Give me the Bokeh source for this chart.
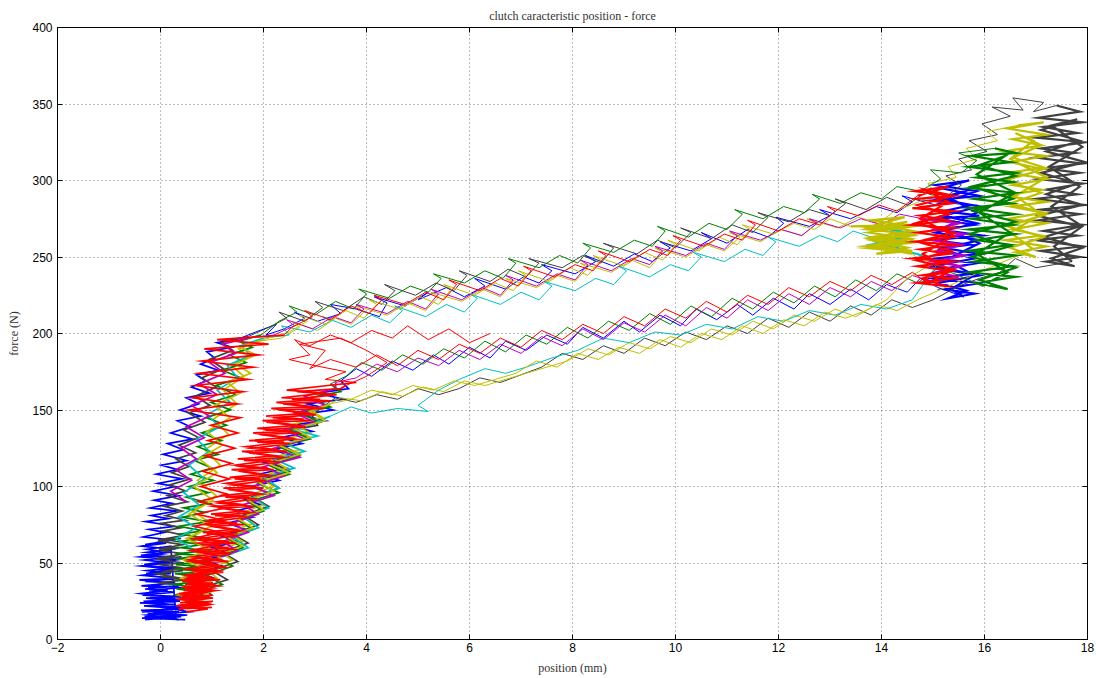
from bokeh.plotting import figure
from bokeh.models import Range1d, Title, FixedTicker, LinearAxis
from bokeh.embed import file_html
from bokeh.resources import INLINE

title_text = "clutch caracteristic position - force"
x_label = "position (mm)"
y_label = "force (N)"
x_ticks = [-2, 0, 2, 4, 6, 8, 10, 12, 14, 16, 18]
y_ticks = [0, 50, 100, 150, 200, 250, 300, 350, 400]

# ---------------- blue ----------------
blue_up = [
(0.48,13),(-0.36,14),(0.40,15),(-0.30,13),(0.52,16),(-0.25,17),(0.36,18),(-0.38,19),(0.45,20),(-0.32,22),(0.30,23),(-0.40,24),(0.38,25),(-0.28,27),(0.44,28),(-0.35,29),(0.26,31),(-0.22,32),(0.40,34),(-0.37,35),(0.28,37),(-0.30,38),(0.34,40),(-0.39,42),(0.20,43),(-0.27,45),(0.31,47),(-0.36,48),(0.18,50),(-0.31,52),(0.25,54),(-0.38,55),(0.12,57),(-0.26,59),(0.20,61),
(0.30,14),(-0.31,15),(0.46,16),(-0.18,17),(0.25,19),(-0.36,18),(0.41,21),(-0.27,22),(0.18,23),(-0.33,25),(0.38,26),(-0.21,28),(0.29,27),(-0.39,30),(0.14,32),(-0.30,33),(0.35,35),(-0.24,34),(0.20,37),(-0.41,39),(0.27,40),(-0.35,42),(0.09,44),(-0.28,43),(0.23,46),(-0.38,48),(0.15,50),(-0.32,49),(0.30,52),(-0.40,54),(0.06,56),(-0.27,57),(0.19,59),(-0.36,61),(0.11,63),(-0.30,62),(0.24,65),(-0.33,67),(0.08,70),(-0.22,72),(0.27,74),(-0.29,77),(0.15,79),(-0.18,81),(0.31,84),(-0.20,86),(0.22,89),(-0.12,91),(0.36,94),(-0.14,97),(0.28,100),(-0.05,102),(0.42,105),(-0.08,108),(0.33,111),(0.02,114),(0.50,117),(0.05,121),(0.44,124),(0.14,128),(0.62,131),(0.20,135),(0.58,139),(0.33,143),(0.78,146),(0.38,150),(0.74,154),(0.50,158),(0.95,161),(0.60,165),(0.88,169),(0.70,173),(1.12,176),(0.78,180),(1.05,184),(0.90,188),(1.38,191),(1.10,194),(1.55,197),
]
blue_top = [
(1.85,201),(2.25,206),(2.05,199),(2.40,203),(2.80,210),(2.60,214),(3.05,208),(3.50,213),(3.30,219),(3.80,216),(4.25,211),(4.40,220),(4.15,224),(4.75,218),(5.20,227),(5.00,222),(5.55,230),(5.90,224),(6.30,231),(6.10,236),(6.70,229),(7.05,237),(7.35,233),(7.60,241),(7.40,245),(8.05,239),(8.45,247),(8.25,251),(8.80,244),(9.20,252),(9.55,247),(9.90,256),(9.70,260),(10.30,254),(10.70,262),(10.50,266),(11.00,259),(11.40,268),(11.80,263),(12.10,272),(11.95,276),(12.60,270),(13.00,277),(12.80,281),(13.40,275),(13.90,283),(14.30,279),(14.60,286),(14.40,290),(15.05,284),
]
blue_hold = [
(15.85,293),(15.05,297),(15.7,300),(15.15,295),(15.9,290),(15.0,287),(15.75,284),(15.2,280),(15.9,277),(15.05,275),(15.8,271),(15.1,268),(15.95,264),(15.0,261),(15.7,258),(15.2,256),(15.9,252),(15.05,249),(15.85,246),(15.15,242),(15.75,239),(15.0,236),(15.9,233),(15.2,229),(15.8,226),(15.3,223),(15.65,228),(15.1,233),(15.9,238),(15.0,244),(15.8,249),(15.15,255),(15.9,261),(15.05,266),(15.85,272),(15.2,277),(15.9,283),(15.1,288),(15.7,294),(15.3,289),(15.85,279),(15.2,269),(15.9,259),(15.25,248),(15.8,238),(15.35,229),(15.6,224),
]
blue_back = [
(15.1,230),(14.75,236),(14.5,227),(14.1,232),(13.75,222),(13.4,229),(13.0,219),(12.6,226),(12.3,216),(11.9,223),(11.5,212),(11.2,219),(10.8,209),(10.4,216),(10.1,205),(9.7,212),(9.3,201),(9.0,208),(8.6,197),(8.2,204),(7.9,193),(7.5,199),(7.1,189),(6.7,195),(6.4,184),(6.0,191),(5.6,180),(5.3,186),(4.9,176),(4.5,182),(4.1,172),(3.8,177),(3.5,169),
]
blue_down = [
(3.65,164),(3.05,161),(3.55,157),(2.85,154),(3.35,150),(2.70,147),(3.20,143),(2.50,140),(2.95,136),(2.35,132),(2.75,128),(2.15,124),(2.60,120),(2.00,116),(2.45,112),(1.90,108),(2.30,104),(1.75,100),(2.10,96),(1.60,92),(1.95,88),(1.45,84),(1.80,80),(1.30,76),(1.65,72),(1.15,68),(1.50,64),(1.00,60),(1.35,56),(0.85,52),(1.20,48),(0.70,44),(1.05,40),(0.55,36),(0.90,32),(0.35,28),(0.75,24),(0.10,21),(0.55,18),(-0.25,16),(0.35,13),
]

# ---------------- dark gray ----------------
gray_up = [
(0.42,36),(-0.05,37),(0.47,39),(0.01,41),(0.40,40),(-0.08,43),(0.44,45),(0.03,44),(0.38,47),(-0.04,49),(0.46,50),(0.00,52),(0.41,54),(-0.07,53),(0.45,56),(0.04,58),(0.37,60),(-0.03,59),(0.43,62),(0.02,64),(0.40,66),(-0.05,65),(0.46,68),(0.06,71),(0.39,73),(0.03,76),(0.48,78),(0.10,81),(0.42,84),(0.08,87),(0.52,90),(0.14,94),(0.49,97),(0.18,101),(0.58,105),(0.22,109),(0.55,113),(0.30,118),(0.68,122),(0.36,127),(0.74,132),(0.45,137),(0.86,142),(0.55,148),(0.96,153),(0.68,159),(1.08,165),(0.80,171),(1.22,177),(0.95,183),(1.40,189),(1.18,194),(1.70,198),
]
gray_top = [
(2.10,204),(2.45,210),(2.30,214),(2.80,208),(3.15,217),(3.00,221),(3.55,215),(3.95,224),(4.30,219),(4.55,228),(4.35,232),(4.95,225),(5.35,233),(5.70,228),(5.95,238),(5.80,241),(6.40,234),(6.75,242),(7.10,237),(7.35,246),(7.15,249),(7.80,243),(8.20,251),(8.55,246),(8.80,256),(8.60,259),(9.25,252),(9.65,261),(10.00,256),(10.30,266),(10.10,269),(10.70,262),(11.10,271),(11.50,266),(11.80,276),(11.60,279),(12.20,273),(12.60,281),(13.00,277),(13.30,285),(13.10,288),(13.70,281),(14.10,289),(14.50,284),(14.85,292),(15.20,288),
(15.55,297),(15.25,303),(15.75,307),(15.50,314),(16.05,319),(15.70,326),(16.25,330),(15.95,337),(16.50,342),(16.15,348),(16.75,346),(16.55,354),(17.15,351),(16.95,345),(17.40,349),
]
gray_hold = [
(17.85,345),(17.05,341),(17.9,338),(17.15,335),(17.8,331),(17.0,328),(17.95,325),(17.1,321),(17.75,318),(17.0,315),(17.9,311),(17.15,308),(17.85,305),(17.05,301),(17.9,298),(17.2,294),(17.8,291),(17.0,288),(17.95,284),(17.1,281),(17.85,278),(17.05,274),(17.9,271),(17.15,267),(17.8,264),(17.0,261),(17.9,257),(17.1,254),(17.85,250),(17.2,247),(17.75,244),(17.3,249),(17.9,256),(17.15,263),(17.85,270),(17.05,277),(17.9,284),(17.2,291),(17.8,298),(17.1,305),(17.95,312),(17.2,319),(17.85,326),(17.1,333),(17.8,340),(17.3,336),(17.9,322),(17.25,309),(17.85,296),(17.3,283),(17.9,270),(17.35,257),(17.7,247),
]
gray_back = [
(17.0,243),(16.6,249),(16.3,240),(15.9,236),(15.5,231),
(15.0,222),(14.6,217),(14.2,222),(13.8,212),(13.4,218),(13.0,208),(12.6,214),(12.2,204),(11.8,210),(11.4,200),(11.0,205),(10.6,196),(10.2,201),(9.8,192),(9.4,197),(9.0,187),(8.6,192),(8.2,183),(7.8,187),(7.4,178),(7.0,173),(6.6,168),(6.2,171),(5.8,164),(5.4,160),(5.0,164),(4.6,157),(4.2,160),(3.8,155),(3.4,158),(3.1,151),
]
gray_down = [
(2.95,146),(3.05,140),(2.55,137),(2.90,132),(2.35,127),(2.70,121),(2.15,116),(2.50,110),(1.95,105),(2.30,99),(1.80,93),(2.10,87),(1.60,81),(1.90,75),(1.40,69),(1.70,63),(1.20,57),(1.50,51),(1.00,45),(1.30,39),(0.80,34),(1.00,29),(0.50,25),
]

# ---------------- yellow (outer) ----------------
yellow_a_up = [
(0.90,22),(0.42,26),(0.96,31),(0.46,37),(0.88,43),(0.52,50),(0.97,58),(0.56,66),(1.02,75),(0.62,84),(1.08,94),(0.72,104),(1.16,114),(0.86,124),(1.32,134),(1.02,144),(1.48,154),(1.22,163),(1.62,172),(1.38,179),(1.72,185),(1.52,190),(1.92,195),
]
yellow_a_top = [
(2.35,197),(2.70,204),(2.55,208),(3.05,202),(3.40,210),(3.70,206),(3.95,214),(3.80,218),(4.40,212),(4.80,220),(5.15,215),(5.40,224),(5.25,227),(5.85,221),(6.25,229),(6.60,224),(6.85,233),(6.70,236),(7.30,230),(7.70,238),(8.05,234),(8.30,243),(8.15,246),(8.75,240),(9.15,248),(9.50,243),(9.75,253),(9.60,256),(10.20,250),(10.60,258),(10.95,254),(11.25,263),(11.05,266),(11.65,260),(12.05,268),(12.45,264),(12.75,272),(12.55,275),(13.15,269),(13.55,276),(13.95,272),(14.25,280),(14.65,285),(15.05,291),(14.90,298),(15.45,302),(15.30,309),(15.85,314),(15.65,321),(16.25,326),(16.05,332),(16.65,336),
]
yellow_a_hold = [
(17.15,338),(16.45,334),(17.2,330),(16.55,327),(17.1,323),(16.4,319),(17.2,316),(16.5,312),(17.05,308),(16.45,305),(17.2,301),(16.55,297),(17.1,294),(16.4,290),(17.2,286),(16.5,283),(17.15,279),(16.45,275),(17.2,272),(16.55,268),(17.1,264),(16.4,261),(17.2,257),(16.6,253),(17.0,250),(16.5,256),(17.15,263),(16.45,270),(17.2,278),(16.5,285),(17.1,292),(16.4,300),(17.2,308),(16.55,315),(17.1,323),(16.6,331),(16.95,326),(16.5,314),(17.2,302),(16.6,290),(17.1,278),(16.5,266),(16.95,255),
]
yellow_a_back = [
(16.3,246),(15.9,240),(15.5,234),(15.1,228),(14.7,222),(14.3,215),(13.9,219),(13.5,211),(13.1,216),(12.7,208),(12.3,212),(11.9,203),(11.5,208),(11.1,199),(10.7,203),(10.3,194),(9.9,198),(9.5,190),(9.1,194),(8.7,186),(8.3,190),(7.9,182),(7.5,178),(7.1,174),(6.7,170),(6.3,166),(5.9,169),(5.5,162),(5.1,165),(4.7,159),(4.3,162),(3.9,156),(3.5,158),(3.2,152),
]
yellow_a_down = [
(2.90,150),(3.15,145),(2.60,141),(2.90,135),(2.30,130),(2.70,124),(2.10,118),(2.45,112),(1.90,106),(2.20,100),(1.70,94),(2.00,88),(1.50,82),(1.80,76),(1.30,70),(1.60,64),(1.10,58),(1.40,52),(0.90,46),(1.10,40),(0.70,34),
]

# ---------------- green ----------------
green_up = [
(0.76,28),(0.27,29),(0.83,31),(0.31,33),(0.72,34),(0.24,36),(0.85,38),(0.33,39),(0.79,41),(0.28,43),(0.87,44),(0.35,46),(0.76,48),(0.30,49),(0.84,51),(0.37,53),(0.80,55),(0.29,56),(0.88,58),(0.39,60),(0.82,62),(0.33,64),(0.90,66),(0.40,69),(0.84,71),(0.36,74),(0.92,77),(0.43,80),(0.87,83),(0.45,86),(0.96,89),(0.50,93),(0.93,96),(0.55,100),(1.03,104),(0.59,108),(1.00,112),(0.66,117),(1.12,121),(0.72,126),(1.18,130),(0.80,135),(1.28,140),(0.88,145),(1.36,150),(0.98,155),(1.46,160),(1.08,166),(1.56,171),(1.20,176),(1.66,181),(1.34,186),(1.78,191),(1.52,195),(1.95,199),
]
green_top = [
(2.30,208),(2.65,214),(2.50,218),(3.00,212),(3.40,221),(3.75,216),(4.00,226),(3.85,229),(4.45,223),(4.85,231),(5.20,227),(5.45,236),(5.30,239),(5.90,233),(6.30,241),(6.65,236),(6.90,246),(6.75,249),(7.35,243),(7.75,251),(8.10,246),(8.35,256),(8.20,259),(8.80,253),(9.20,261),(9.55,257),(9.80,267),(9.65,270),(10.25,263),(10.65,272),(11.00,268),(11.30,278),(11.15,281),(11.70,275),(12.10,283),(12.50,279),(12.80,288),(12.65,291),(13.20,285),(13.60,292),(14.00,288),(14.30,296),(14.75,293),(15.15,301),(14.95,307),(15.55,305),(15.85,313),(15.50,318),(16.20,321),
]
green_hold = [
(16.6,318),(15.75,316),(16.5,312),(15.7,309),(16.6,305),(15.85,302),(16.55,299),(15.7,295),(16.6,292),(15.8,288),(16.5,285),(15.7,282),(16.6,278),(15.75,275),(16.55,271),(15.7,268),(16.6,265),(15.85,261),(16.5,258),(15.7,254),(16.6,251),(15.8,247),(16.55,244),(15.7,240),(16.6,237),(15.85,233),(16.45,229),(15.9,235),(16.6,243),(15.75,250),(16.5,257),(15.7,265),(16.6,273),(15.8,280),(16.55,288),(15.75,296),(16.6,303),(15.9,310),(16.4,316),(15.85,304),(16.6,292),(15.9,279),(16.5,266),(15.85,252),(16.45,240),(15.95,231),
]
green_back = [
(15.5,238),(15.1,243),(14.7,233),(14.3,239),(13.9,228),(13.5,235),(13.1,224),(12.7,231),(12.3,220),(11.9,227),(11.5,216),(11.1,223),(10.7,211),(10.3,218),(9.9,206),(9.5,213),(9.1,202),(8.7,208),(8.3,197),(7.9,204),(7.5,193),(7.1,199),(6.7,188),(6.3,195),(5.9,184),(5.5,190),(5.1,180),(4.7,186),(4.3,176),(3.9,181),(3.6,172),(3.3,167),
]
green_down = [
(3.50,162),(2.90,158),(3.30,152),(2.70,148),(3.10,142),(2.50,137),(2.90,131),(2.30,126),(2.70,120),(2.10,114),(2.50,108),(1.90,102),(2.30,96),(1.70,90),(2.00,84),(1.50,78),(1.80,72),(1.30,66),(1.60,60),(1.10,54),(1.40,48),(0.90,42),(1.20,36),(0.70,31),(0.95,27),
]

# ---------------- cyan ----------------
cyan_up = [
(0.6,60),(0.3,66),(0.7,73),(0.35,80),(0.75,88),(0.45,96),(0.85,105),(0.55,114),(0.95,123),(0.7,131),(1.15,139),(0.9,147),(1.35,155),(1.1,163),(1.5,171),(1.3,179),(1.75,186),(1.55,192),(2.0,197),
]
cyan_top = [
(2.50,199),(2.35,205),(2.90,201),(3.30,208),(3.15,211),(3.70,204),(4.10,212),(4.45,207),(4.70,215),(4.55,218),(5.15,211),(5.55,219),(5.90,214),(6.15,223),(6.00,226),(6.60,219),(7.00,227),(7.35,222),(7.60,231),(7.45,234),(8.05,228),(8.45,236),(8.80,232),(9.05,241),(8.90,244),(9.50,237),(9.90,245),(10.25,241),(10.50,250),(10.35,253),(10.95,247),(11.35,255),(11.70,251),(11.95,260),(11.80,263),(12.40,257),(12.80,264),(13.15,260),(13.45,267),(13.80,263),
]
cyan_hold = [
(14.4,262),(13.8,258),(14.5,254),(13.9,260),(14.6,265),(14.0,270),(14.5,264),(14.1,256),(14.7,252),(15.1,246),
]
cyan_back = [
(14.6,222),(14.1,216),(13.6,219),(13.1,212),(12.6,215),(12.1,208),(11.6,211),(11.1,203),(10.6,206),(10.1,199),(9.6,201),(9.1,194),(8.6,197),(8.1,189),(7.6,184),(7.1,178),(6.7,174),(6.3,177),(5.8,170),(5.4,163),(5.0,153),(5.2,149),(4.6,151),(4.1,148),(3.7,152),(3.3,146),
]
cyan_down = [
(2.95,141),(2.6,137),(3.05,133),(2.4,128),(2.8,123),(2.2,118),(2.6,112),(2.0,106),(2.3,99),(1.8,93),(2.1,86),(1.6,80),(1.9,73),(1.4,67),(1.7,60),(1.2,54),
]

# ---------------- magenta ----------------
magenta_up = [
(0.5,90),(0.2,97),(0.6,104),(0.3,111),(0.7,118),(0.4,125),(0.85,132),(0.5,139),(0.95,146),(0.6,153),(1.1,160),(0.75,167),(1.25,174),(0.95,181),(1.45,187),(1.2,193),(1.7,197),
]
magenta_top = [
(2.20,199),(2.60,205),(2.45,209),(2.95,203),(3.35,211),(3.70,207),(3.95,216),(3.80,219),(4.40,213),(4.80,221),(5.15,216),(5.40,226),(5.25,229),(5.85,222),(6.25,230),(6.60,225),(6.85,235),(6.70,238),(7.30,231),(7.70,239),(8.05,235),(8.30,245),(8.15,248),(8.75,241),(9.15,249),(9.50,245),(9.75,254),(9.60,257),(10.20,251),(10.60,259),(10.95,255),(11.20,264),(11.05,267),(11.65,261),(12.05,268),(12.45,264),(12.75,272),(12.60,275),(13.20,269),(13.60,275),(14.00,271),(14.35,278),(14.80,275),
]
magenta_hold = [
(15.5,272),(15.05,268),(15.6,265),(15.0,261),(15.55,258),(15.1,254),(15.6,251),(15.0,247),(15.55,244),(15.05,240),(15.5,237),
]
magenta_back = [
(15.0,233),(14.6,238),(14.2,228),(13.8,234),(13.4,224),(13.0,230),(12.6,219),(12.2,226),(11.8,215),(11.4,222),(11.0,210),(10.6,217),(10.2,205),(9.8,212),(9.4,201),(9.0,207),(8.6,196),(8.2,203),(7.8,192),(7.4,198),(7.0,187),(6.6,193),(6.2,183),(5.8,189),(5.4,179),(5.0,184),(4.6,175),(4.2,180),(3.8,171),(3.4,168),
]
magenta_down = [
(3.4,164),(2.8,159),(3.2,153),(2.6,148),(3.0,142),(2.4,137),(2.8,131),(2.2,125),(2.7,119),(2.0,113),(2.4,107),(1.8,100),(2.2,94),(1.6,88),(1.9,82),(1.4,76),(1.7,70),(1.2,64),(1.5,58),(1.0,52),
]

# ---------------- yellow (inner) ----------------
yellow_b_up = [
(0.85,25),(0.35,29),(0.9,34),(0.4,40),(0.88,46),(0.45,52),(0.92,59),(0.5,66),(0.98,74),(0.55,82),(1.02,91),(0.65,100),(1.1,109),(0.75,118),(1.2,127),(0.9,136),(1.35,145),(1.05,153),(1.55,161),(1.3,168),(1.75,174),(1.45,180),(1.85,186),(1.55,191),(2.0,196),
]
yellow_b_top = [
(2.50,201),(2.85,208),(2.70,212),(3.20,206),(3.60,215),(3.95,210),(4.20,219),(4.05,222),(4.65,216),(5.05,224),(5.40,219),(5.65,229),(5.50,232),(6.10,225),(6.50,233),(6.85,228),(7.10,238),(6.95,241),(7.55,234),(7.95,243),(8.30,238),(8.55,248),(8.40,251),(9.00,244),(9.40,253),(9.75,248),(10.00,258),(9.85,261),(10.45,254),(10.85,263),(11.20,258),(11.45,268),(11.30,271),(11.90,265),(12.30,272),(12.70,268),(13.00,275),(13.40,270),
]
yellow_b_hold = [
(14.55,271),(13.75,268),(14.6,265),(13.8,262),(14.5,259),(13.7,256),(14.6,253),(13.85,258),(14.55,262),(13.75,266),(14.6,270),(13.8,274),(14.45,276),(13.9,271),(14.6,267),(13.8,263),(14.55,260),(13.7,257),(14.6,254),(13.9,252),(14.5,256),(13.8,261),(14.6,264),(13.75,269),(14.5,273),(14.0,268),(14.6,261),(14.1,255),(14.6,252),
]
yellow_b_back = [
(14.9,244),(14.5,236),(14.1,222),(13.7,215),(13.3,210),(12.9,214),(12.5,205),(12.1,209),(11.7,200),(11.3,205),(10.9,196),(10.5,200),(10.1,191),(9.7,196),(9.3,187),(8.9,191),(8.5,183),(8.1,187),(7.7,178),(7.3,182),(6.9,174),(6.5,170),(6.1,166),(5.7,169),(5.3,163),(4.9,166),(4.5,160),(4.1,163),(3.7,157),(3.3,154),
]
yellow_b_down = [
(2.9,149),(3.2,143),(2.6,138),(2.9,132),(2.3,127),(2.7,121),(2.1,115),(2.5,109),(1.9,103),(2.2,97),(1.7,91),(2.0,85),(1.5,79),(1.8,73),(1.3,67),(1.6,61),(1.1,55),(1.3,49),
]

# ---------------- red ----------------
red_up = [
(1.0,21),(0.35,20),(0.98,23),(0.30,22),(1.02,25),(0.38,24),(0.95,27),(0.33,26),(1.0,29),(0.42,28),(0.92,31),(0.36,30),(1.0,33),(0.45,32),(0.96,35),(0.40,34),(1.02,37),(0.48,36),(0.95,39),(0.42,38),(1.0,41),(0.50,40),(0.97,43),(0.46,42),(1.03,45),(0.52,46),(1.06,49),(0.55,52),(1.1,55),(0.58,58),(1.14,62),(0.62,66),(1.18,70),(0.66,74),(1.22,78),(0.70,82),(1.26,86),(0.74,90),(1.3,95),(0.78,100),(1.34,105),(0.82,110),(1.38,115),(0.86,120),(1.44,125),(0.92,130),(1.5,135),(0.98,140),(1.55,145),(0.55,150),(1.5,154),(0.62,158),(1.6,162),(0.68,166),(1.7,170),(0.75,174),(1.8,178),(0.8,182),(1.9,186),(0.85,190),(2.1,193),(1.1,196),(2.4,199),
]
red_top = [
(2.55,204),(2.95,211),(2.80,215),(3.30,209),(3.70,218),(4.05,213),(4.30,222),(4.15,225),(4.75,219),(5.15,227),(5.50,222),(5.75,232),(5.60,235),(6.20,228),(6.60,236),(6.95,231),(7.20,241),(7.05,244),(7.65,237),(8.05,245),(8.40,241),(8.65,251),(8.50,254),(9.10,247),(9.50,255),(9.85,251),(10.10,261),(9.95,264),(10.55,257),(10.95,265),(11.30,261),(11.55,271),(11.40,274),(12.00,267),(12.40,275),(12.80,271),(13.10,280),(12.95,283),(13.55,277),(13.95,284),(14.30,280),(14.70,290),
]
red_hold = [
(15.3,296),(14.65,293),(15.4,290),(14.7,288),(15.35,285),(14.6,282),(15.4,280),(14.75,277),(15.3,274),(14.6,271),(15.4,269),(14.7,266),(15.35,263),(14.65,260),(15.4,258),(14.75,255),(15.3,252),(14.6,249),(15.4,247),(14.7,244),(15.35,241),(14.8,238),(15.4,236),(14.7,233),(15.25,231),(14.8,236),(15.4,242),(14.65,248),(15.35,254),(14.7,260),(15.4,266),(14.65,272),(15.3,278),(14.7,284),(15.4,290),(14.85,294),(15.3,286),(14.75,275),(15.4,264),(14.8,252),(15.35,241),(14.9,233),
]
red_back = [
(14.6,240),(14.2,232),(13.8,238),(13.4,228),(13.0,234),(12.6,224),(12.2,230),(11.8,219),(11.4,225),(11.0,214),(10.6,221),(10.2,210),(9.8,216),(9.4,205),(9.0,211),(8.6,200),(8.2,206),(7.8,196),(7.4,202),(7.0,191),(6.6,197),(6.2,187),(5.8,193),(5.4,183),(5.0,189),(4.6,179),(4.2,186),(3.8,178),(3.3,183),(2.9,177),(3.2,189),(2.7,193),(3.5,197),(4.0,189),(4.4,181),(4.0,172),(3.6,166),
]
red_down = [
(3.50,164),(2.65,162),(3.42,160),(2.55,157),(3.30,156),(2.38,154),(3.18,151),(2.30,150),(3.02,147),(2.18,145),(2.92,143),(2.06,142),(2.82,139),(2.02,137),(2.70,135),(1.92,134),(2.62,131),(1.88,129),(2.50,128),(1.78,125),(2.46,123),(1.72,122),(2.38,119),(1.62,117),(2.32,116),(1.58,113),(2.20,111),(1.52,110),(2.16,107),(1.44,105),(2.06,104),(1.40,101),(2.00,99),(1.32,98),(1.96,95),(1.26,93),(1.88,92),(1.18,89),(1.82,87),(1.12,86),(1.76,83),(1.06,81),(1.68,80),(1.00,77),(1.62,75),(0.96,74),(1.56,71),(0.90,69),(1.50,68),(0.86,65),(1.46,63),(0.80,62),(1.40,59),(0.76,57),(1.36,56),(0.70,53),(1.32,51),(0.66,50),(1.26,47),(0.60,45),(1.22,44),(0.56,41),(1.16,39),(0.52,38),(1.12,35),(0.50,33),(1.06,32),(0.46,29),(1.02,27),(0.44,26),(0.96,23),(0.40,21),(0.92,20),(0.50,18),
]
red2_back = [
(6.4,200),(6.0,194),(5.6,203),(5.2,196),(4.8,205),(4.5,197),(4.1,202),(3.7,194),(3.3,199),(2.9,192),(2.6,196),(2.9,186),(2.5,183),(3.0,179),(3.6,175),(3.2,170),(3.8,168),
]
red2_down = [
(3.25,166),(2.45,163),(3.20,161),(2.35,158),(3.10,157),(2.25,155),(2.98,152),(2.15,151),(2.88,148),(2.05,146),(2.78,144),(1.98,143),(2.66,140),(1.88,138),(2.56,136),(1.80,135),(2.46,132),(1.72,130),(2.40,129),(1.66,126),(2.30,124),(1.58,123),(2.24,120),(1.50,118),(2.14,117),(1.46,114),(2.08,112),(1.38,111),(2.00,108),(1.34,106),(1.94,105),(1.28,102),(1.86,100),(1.22,99),(1.80,96),(1.16,94),(1.72,93),(1.10,90),(1.66,88),(1.04,87),(1.60,84),(0.98,82),(1.54,81),(0.94,78),(1.48,76),(0.88,75),(1.44,72),(0.82,70),(1.38,69),(0.78,66),(1.34,64),(0.74,63),(1.28,60),(0.68,58),(1.24,57),(0.64,54),(1.20,52),(0.60,51),(1.14,48),(0.56,46),(1.10,45),(0.52,42),(1.04,40),(0.48,39),(1.00,36),(0.46,34),(0.98,33),(0.42,30),(0.94,28),(0.40,27),(0.90,24),(0.36,22),(0.86,21),
]

# cycles in drawing order: colour and its parts (rise, top run, hold, return run, fall)
cycles = [
    ("#0000ff", [blue_up, blue_top, blue_hold, blue_back, blue_down]),
    ("#404040", [gray_up, gray_top, gray_hold, gray_back, gray_down]),
    ("#bfbf00", [yellow_a_up, yellow_a_top, yellow_a_hold, yellow_a_back, yellow_a_down]),
    ("#008000", [green_up, green_top, green_hold, green_back, green_down]),
    ("#00bfbf", [cyan_up, cyan_top, cyan_hold, cyan_back, cyan_down]),
    ("#bf00bf", [magenta_up, magenta_top, magenta_hold, magenta_back, magenta_down]),
    ("#bfbf00", [yellow_b_up, yellow_b_top, yellow_b_hold, yellow_b_back, yellow_b_down]),
    ("#ff0000", [red_up, red_top, red_hold, red_back, red_down]),
    ("#ff0000", [[], [], [], red2_back, red2_down]),
]
part_width = [1.7, 1.0, 2.2, 1.0, 1.7]

W, H = 1096, 678
ML, MR, MT, MB = 57, 9, 27, 39
p = figure(width=W, height=H, output_backend="svg", toolbar_location=None,
           x_range=Range1d(x_ticks[0], x_ticks[-1]), y_range=Range1d(y_ticks[0], y_ticks[-1]),
           min_border_left=ML, min_border_right=MR, min_border_top=MT, min_border_bottom=MB)
p.title.text = ""
p.background_fill_color = "white"
p.border_fill_color = "white"
p.outline_line_color = "black"
p.outline_line_width = 1

for col, parts in cycles:
    prev = None
    for k, part in enumerate(parts):
        if not part:
            continue
        pts = ([prev] if prev is not None else []) + list(part)
        p.line([a for a, b in pts], [b for a, b in pts], line_color=col,
               line_width=part_width[k], line_join="miter")
        prev = part[-1]

for ax in p.xaxis + p.yaxis:
    ax.major_tick_in = 5
    ax.major_tick_out = 0
    ax.minor_tick_line_color = None
    ax.axis_line_color = "black"
    ax.major_tick_line_color = "black"
    ax.major_label_text_font = "Liberation Sans"
    ax.major_label_text_font_size = "12px"
    ax.major_label_text_color = "black"
    ax.axis_label_text_font = "Liberation Serif"
    ax.axis_label_text_font_size = "12px"
    ax.axis_label_text_font_style = "normal"
    ax.axis_label_text_color = "#333333"

p.xaxis.ticker = FixedTicker(ticks=x_ticks)
p.yaxis.ticker = FixedTicker(ticks=y_ticks)
p.xaxis.axis_label = x_label
p.yaxis.axis_label = y_label
p.xaxis.major_label_standoff = 3
p.yaxis.major_label_standoff = 5
p.xaxis.axis_label_standoff = 6
p.yaxis.axis_label_standoff = 8

# mirrored box axes on top and right, ticks inside, no labels
top_ax = LinearAxis(ticker=FixedTicker(ticks=x_ticks), major_tick_in=5, major_tick_out=0,
                    minor_tick_line_color=None, major_label_text_font_size="0px",
                    major_label_standoff=0, axis_line_color="black")
right_ax = LinearAxis(ticker=FixedTicker(ticks=y_ticks), major_tick_in=5, major_tick_out=0,
                      minor_tick_line_color=None, major_label_text_font_size="0px",
                      major_label_standoff=0, axis_line_color="black")
p.add_layout(top_ax, "above")
p.add_layout(right_ax, "right")

p.add_layout(Title(text=title_text, align="center", text_font="Liberation Serif",
                   text_font_size="12px", text_font_style="normal", text_color="#333333"), "above")

for g in (p.xgrid[0], p.ygrid[0]):
    g.grid_line_color = "#777777"
    g.grid_line_dash = "1 3"
    g.grid_line_width = 1
p.xgrid.ticker = FixedTicker(ticks=x_ticks)
p.ygrid.ticker = FixedTicker(ticks=y_ticks)

open("out.html", "w").write(file_html(p, INLINE))
